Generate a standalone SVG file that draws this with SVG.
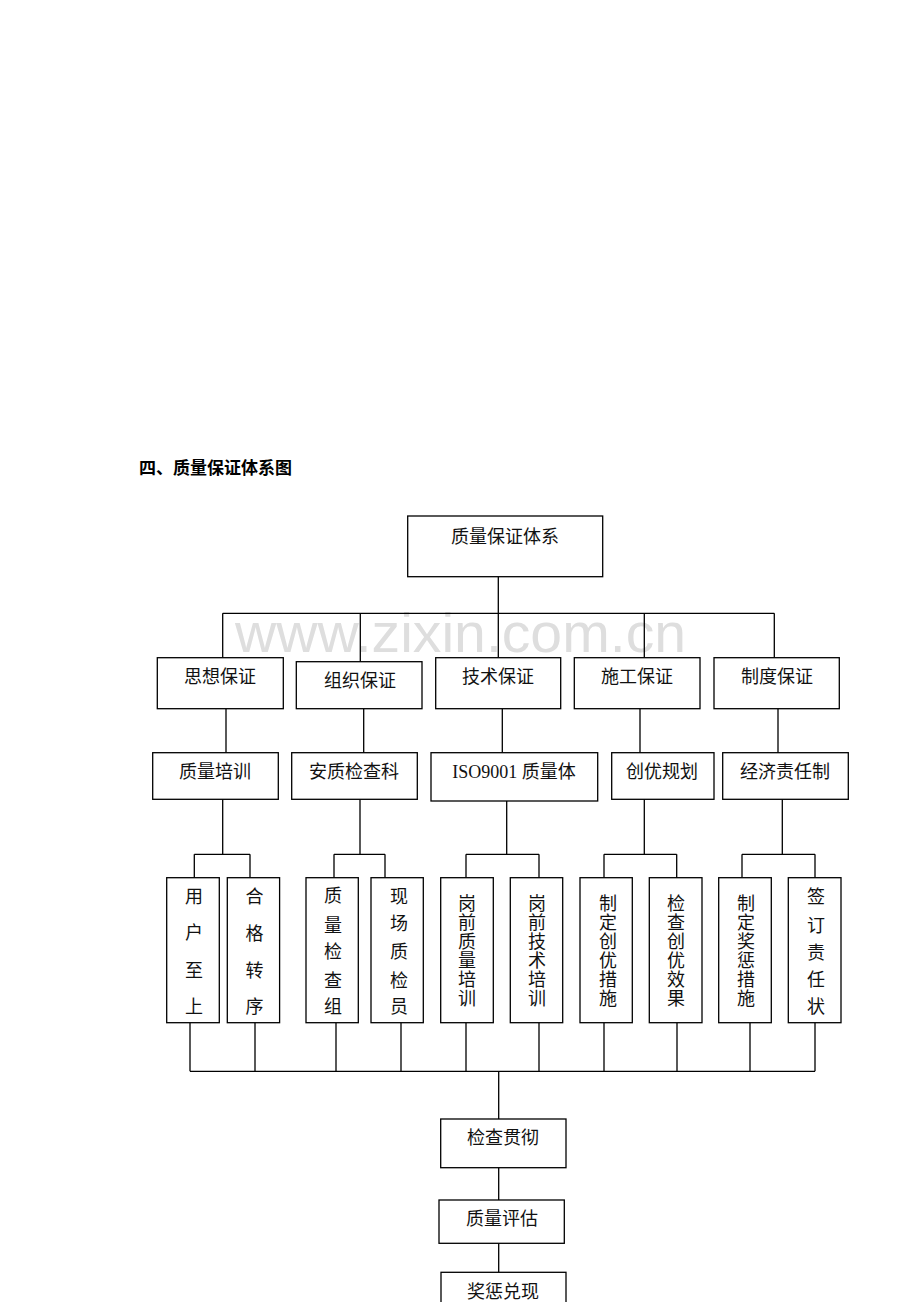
<svg xmlns="http://www.w3.org/2000/svg" width="920" height="1302" viewBox="0 0 920 1302">
<style>
.box{fill:#fff;stroke:#000;stroke-width:1.3}
.ln{fill:none;stroke:#000;stroke-width:1.3}
.t{font-family:"Liberation Serif","Noto Sans CJK SC",serif;font-size:18px;fill:#111;text-anchor:middle}
.v{font-family:"Liberation Serif","Noto Sans CJK SC",serif;font-size:18px;fill:#111;text-anchor:middle}
.title{font-family:"Liberation Sans","Noto Sans CJK SC",sans-serif;font-size:17px;font-weight:bold;fill:#000}
.wm{font-family:"Liberation Sans",Arial,sans-serif;font-size:56px;fill:#dedede}
</style>
<rect width="920" height="1302" fill="#fff"/>
<text class="title" x="139" y="474">四、质量保证体系图</text>
<text class="wm" x="235" y="652" textLength="451" lengthAdjust="spacingAndGlyphs">www.zixin.com.cn</text>
<g id="connectors">
<path class="ln" d="M498.3 576.7V613.3M222.7 613.3H774.3M222.7 613.3V657.7M360.3 613.3V661.7M498.3 613.3V657.7M644.3 613.3V657.7M774.3 613.3V657.7"/>
<path class="ln" d="M226 708.7V752.7M363.7 708.7V752.7M502.3 708.7V752.7M640 708.7V752.7M778 708.7V752.7"/>
<path class="ln" d="M222.7 799.3V854.3M194.3 854.3H250M194.3 854.3V877.7M250 854.3V877.7"/>
<path class="ln" d="M360 799.3V854.3M334 854.3H385M334 854.3V877.7M385 854.3V877.7"/>
<path class="ln" d="M506.7 801V854.3M466 854.3H539M466 854.3V877.7M539 854.3V877.7"/>
<path class="ln" d="M644.3 799.3V854.3M604 854.3H676.7M604 854.3V877.7M676.7 854.3V877.7"/>
<path class="ln" d="M782.3 799.3V854.3M742 854.3H815M742 854.3V877.7M815 854.3V877.7"/>
<path class="ln" d="M190 1022.7V1071.3M255 1022.7V1071.3M336 1022.7V1071.3M401 1022.7V1071.3M466 1022.7V1071.3M539 1022.7V1071.3M604 1022.7V1071.3M677 1022.7V1071.3M750 1022.7V1071.3M815 1022.7V1071.3M190 1071.3H815"/>
<path class="ln" d="M498.7 1071.3V1119M498.7 1167.7V1200M498.7 1243.3V1272.3"/>
</g>
<g id="root"><rect class="box" x="407.7" y="516" width="195" height="60.7"/><text class="t" x="505" y="543">质量保证体系</text></g>
<g id="n_sixiang"><rect class="box" x="157.3" y="657.7" width="126" height="51"/><text class="t" x="220" y="683">思想保证</text></g>
<g id="n_zuzhi"><rect class="box" x="296.3" y="661.7" width="125.7" height="47"/><text class="t" x="360" y="687">组织保证</text></g>
<g id="n_jishu"><rect class="box" x="435.7" y="657.7" width="125" height="51"/><text class="t" x="498" y="683">技术保证</text></g>
<g id="n_shigong"><rect class="box" x="574.3" y="657.7" width="125.7" height="51"/><text class="t" x="637" y="683">施工保证</text></g>
<g id="n_zhidu"><rect class="box" x="714" y="657.7" width="125.3" height="51"/><text class="t" x="777" y="683">制度保证</text></g>
<g id="n_peixun"><rect class="box" x="152.7" y="752.7" width="125.6" height="46.6"/><text class="t" x="215" y="778">质量培训</text></g>
<g id="n_anzhi"><rect class="box" x="291.7" y="752.7" width="125.6" height="46.6"/><text class="t" x="354" y="778">安质检查科</text></g>
<g id="n_iso"><rect class="box" x="431" y="752.7" width="166.7" height="48.3"/><text class="t" x="514" y="778">ISO9001 质量体</text></g>
<g id="n_chuangyou"><rect class="box" x="611.7" y="752.7" width="102.3" height="46.6"/><text class="t" x="662" y="778">创优规划</text></g>
<g id="n_jingji"><rect class="box" x="722.7" y="752.7" width="125.6" height="46.6"/><text class="t" x="785" y="778">经济责任制</text></g>
<g id="l1"><rect class="box" x="166.7" y="877.7" width="52.6" height="145"/><text class="v"><tspan x="194" y="903">用</tspan><tspan x="194" y="938.5">户</tspan><tspan x="194" y="976.5">至</tspan><tspan x="194" y="1013">上</tspan></text></g>
<g id="l2"><rect class="box" x="227.3" y="877.7" width="52.3" height="145"/><text class="v"><tspan x="254.5" y="903">合</tspan><tspan x="254.5" y="940">格</tspan><tspan x="254.5" y="976.5">转</tspan><tspan x="254.5" y="1013">序</tspan></text></g>
<g id="l3"><rect class="box" x="306" y="877.7" width="52.3" height="145"/><text class="v"><tspan x="333" y="901.5">质</tspan><tspan x="333" y="931.5">量</tspan><tspan x="333" y="958">检</tspan><tspan x="333" y="986.5">查</tspan><tspan x="333" y="1013">组</tspan></text></g>
<g id="l4"><rect class="box" x="371" y="877.7" width="52.3" height="145"/><text class="v"><tspan x="399" y="902.5">现</tspan><tspan x="399" y="930">场</tspan><tspan x="399" y="958">质</tspan><tspan x="399" y="986.5">检</tspan><tspan x="399" y="1013">员</tspan></text></g>
<g id="l5"><rect class="box" x="440.7" y="877.7" width="52.6" height="145"/><text class="v"><tspan x="467" y="909.5">岗</tspan><tspan x="467" y="928.5">前</tspan><tspan x="467" y="947.5">质</tspan><tspan x="467" y="966.5">量</tspan><tspan x="467" y="985.5">培</tspan><tspan x="467" y="1004.5">训</tspan></text></g>
<g id="l6"><rect class="box" x="510.3" y="877.7" width="52.4" height="145"/><text class="v"><tspan x="537" y="909.5">岗</tspan><tspan x="537" y="928.5">前</tspan><tspan x="537" y="947.5">技</tspan><tspan x="537" y="966.5">术</tspan><tspan x="537" y="985.5">培</tspan><tspan x="537" y="1004.5">训</tspan></text></g>
<g id="l7"><rect class="box" x="580" y="877.7" width="52.3" height="145"/><text class="v"><tspan x="608" y="909.5">制</tspan><tspan x="608" y="928.5">定</tspan><tspan x="608" y="947.5">创</tspan><tspan x="608" y="966.5">优</tspan><tspan x="608" y="985.5">措</tspan><tspan x="608" y="1004.5">施</tspan></text></g>
<g id="l8"><rect class="box" x="649.3" y="877.7" width="52.7" height="145"/><text class="v"><tspan x="676" y="909.5">检</tspan><tspan x="676" y="928.5">查</tspan><tspan x="676" y="947.5">创</tspan><tspan x="676" y="966.5">优</tspan><tspan x="676" y="985.5">效</tspan><tspan x="676" y="1004.5">果</tspan></text></g>
<g id="l9"><rect class="box" x="718.7" y="877.7" width="52.6" height="145"/><text class="v"><tspan x="746" y="909.5">制</tspan><tspan x="746" y="928.5">定</tspan><tspan x="746" y="947.5">奖</tspan><tspan x="746" y="966.5">惩</tspan><tspan x="746" y="985.5">措</tspan><tspan x="746" y="1004.5">施</tspan></text></g>
<g id="l10"><rect class="box" x="788.3" y="877.7" width="52.7" height="145"/><text class="v"><tspan x="816" y="902.5">签</tspan><tspan x="816" y="931.5">订</tspan><tspan x="816" y="958.5">责</tspan><tspan x="816" y="985.5">任</tspan><tspan x="816" y="1013">状</tspan></text></g>
<g id="n_jiancha"><rect class="box" x="440.7" y="1119" width="125.3" height="48.7"/><text class="t" x="503" y="1144">检查贯彻</text></g>
<g id="n_pinggu"><rect class="box" x="439" y="1200" width="125.3" height="43.3"/><text class="t" x="502" y="1224.5">质量评估</text></g>
<g id="n_jiangcheng"><rect class="box" x="441" y="1272.3" width="125" height="45"/><text class="t" x="503" y="1298">奖惩兑现</text></g>
</svg>
